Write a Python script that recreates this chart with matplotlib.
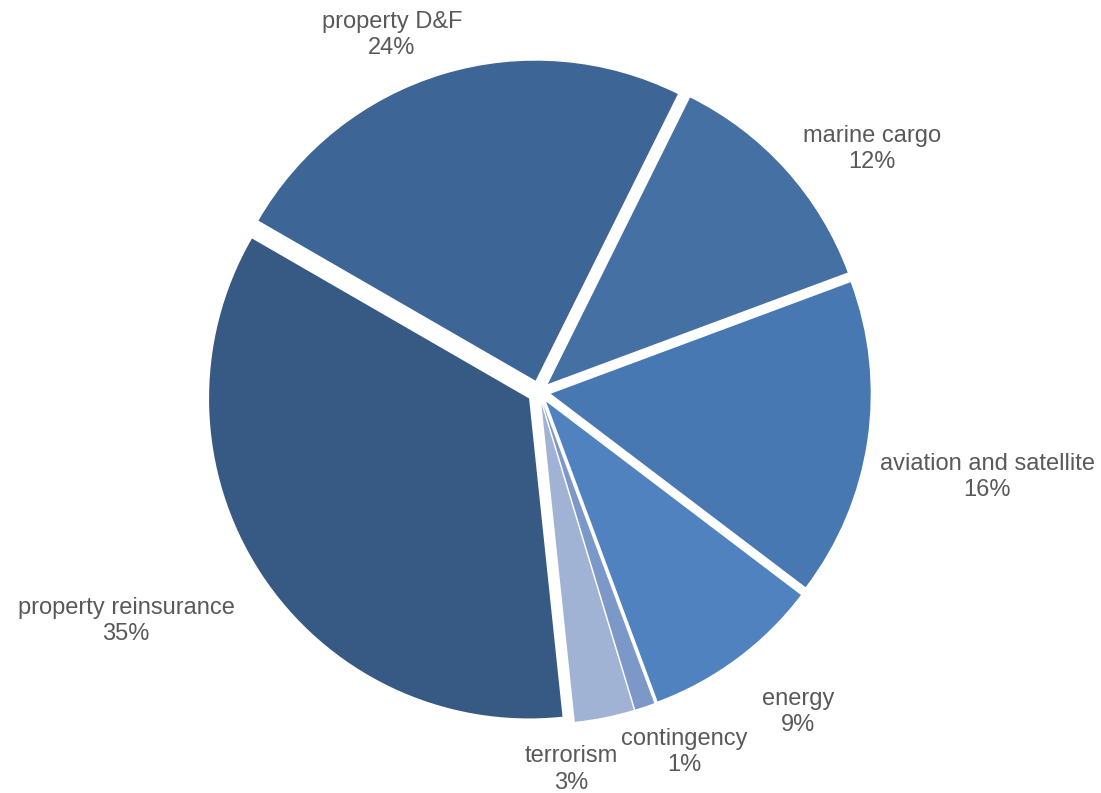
"""Premium mix by line of business, drawn as an exploded pie."""

import matplotlib

matplotlib.use("Agg")
import matplotlib.pyplot as plt

CATEGORIES = [
    "property D&F",
    "marine cargo",
    "aviation and satellite",
    "energy",
    "contingency",
    "terrorism",
    "property reinsurance",
]
SHARES = [24, 12, 16, 9, 1, 3, 35]

COLORS = ["#3D6595", "#4570A3", "#4878B1", "#4F82BE", "#7C98C8", "#A1B3D4", "#375A84"]
TEXT_COLOR = "#595959"

# label anchors (data units, pie radius = 1)
LABEL_POS = [
    (-0.46, 1.115),
    (1.04, 0.76),
    (1.40, -0.265),
    (0.81, -1.0),
    (0.455, -1.125),
    (0.10, -1.18),
    (-1.29, -0.715),
]

W, H = 1101, 793
CX, CY, R = 539, 392, 320

fig = plt.figure(figsize=(W / 100, H / 100), dpi=100)
ax = fig.add_axes([0, 0, 1, 1])
ax.axis("off")

ax.pie(
    SHARES,
    colors=COLORS,
    startangle=150,
    counterclock=False,
    explode=[0.037] * len(SHARES),
    wedgeprops={"linewidth": 0},
)

for name, share, (x, y) in zip(CATEGORIES, SHARES, LABEL_POS):
    ax.text(
        x, y, f"{name}\n{share}%",
        ha="center", va="center", color=TEXT_COLOR,
        fontsize=17, family="Liberation Sans", linespacing=1.25,
    )

ax.set_xlim(-CX / R, (W - CX) / R)
ax.set_ylim(-(H - CY) / R, CY / R)
ax.set_aspect("equal")

fig.savefig("out.png", dpi=100)
plt.close(fig)
